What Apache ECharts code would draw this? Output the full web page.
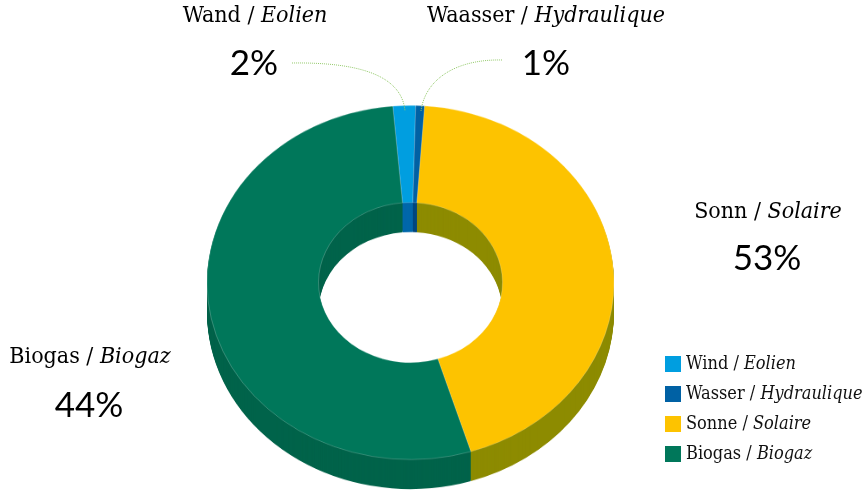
<!DOCTYPE html>
<html>
<head>
<meta charset="utf-8">
<script src="https://cdn.jsdelivr.net/npm/echarts@6/dist/echarts.min.js"></script>
<style>
html, body { margin: 0; padding: 0; background: #fff; }
#wrap { position: relative; width: 866px; height: 491px; overflow: hidden; }
#pie { position: absolute; left: 0; top: 0; width: 866px; height: 564px; transform: scaleY(0.87); transform-origin: 0 0; }
#main { position: absolute; left: 0; top: 0; width: 866px; height: 491px; }
</style>
</head>
<body>
<div id="wrap"><div id="pie"></div><div id="main"></div></div>
<script>
const legendNames = ["Wind / Eolien", "Wasser / Hydraulique", "Sonne / Solaire", "Biogas / Biogaz"];
const labelNames = ["Wand / Eolien", "Waasser / Hydraulique", "Sonn / Solaire", "Biogas / Biogaz"];
// slice sizes as drawn in the picture
const shares = [1.8, 0.7, 44.1, 53.4];
// percentages as printed on the picture
const pctLabels = ["2%", "1%", "53%", "44%"];
const topColors = ["#009ee0", "#0061a4", "#fdc300", "#00775a"];
const sideColors = ["#0067aa", "#00477f", "#8d8b00", "#00634a"];

const SCALE = 0.87;      // vertical squash of the pie layer
const DEPTH = 34;        // extrusion, in unscaled px
const CX = 410.5;
const CY = 282.5 / SCALE;
const serifFont = '"DejaVu Serif Condensed", "DejaVu Serif", serif';

// ---------- pie layer (squashed with css to look tilted) ----------
function pieLayer(colors, dy, isTop) {
  return {
    type: "pie",
    radius: [92, 203.5],
    center: [CX, CY + dy],
    startAngle: 95,
    clockwise: true,
    silent: true,
    animation: false,
    label: { show: false },
    labelLine: { show: false },
    itemStyle: isTop
      ? { borderColor: "rgba(255,255,255,0.35)", borderWidth: 0.6 }
      : { borderWidth: 0 },
    data: shares.map((v, i) => ({
      name: legendNames[i],
      value: v,
      itemStyle: { color: colors[i] }
    }))
  };
}

const pieSeries = [];
for (let k = DEPTH; k >= 1; k--) {
  pieSeries.push(pieLayer(sideColors, k, false));
}
pieSeries.push(pieLayer(topColors, 0, true));

const pieChart = echarts.init(document.getElementById("pie"));
pieChart.setOption({ animation: false, series: pieSeries });

// ---------- text layer ----------
function richName(s) {
  const p = s.split(" / ");
  return "{a|" + p[0] + " / }{b|" + p[1] + "}";
}

const nameRich = {
  a: { fontFamily: serifFont, fontSize: 23, color: "#111" },
  b: { fontFamily: serifFont, fontSize: 23, fontStyle: "italic", color: "#111" }
};

// label anchor points (name line, pct line)
const labelPos = [
  [255, 16, 254, 64],
  [546, 16, 546, 64],
  [768, 212, 767, 259],
  [90, 357, 89, 406]
];

const graphics = [];
labelPos.forEach((p, i) => {
  graphics.push({
    type: "text", x: p[0], y: p[1], silent: true,
    style: { text: richName(labelNames[i]), rich: nameRich, align: "center", verticalAlign: "middle" }
  });
  graphics.push({
    type: "text", x: p[2], y: p[3], silent: true,
    style: {
      text: pctLabels[i], fill: "#000",
      font: "400 35px Lato, sans-serif",
      align: "center", verticalAlign: "middle"
    }
  });
});

// leader lines for the two small slices
graphics.push({
  type: "bezierCurve", silent: true,
  shape: { x1: 292, y1: 63, cpx1: 365, cpy1: 62, cpx2: 402, cpy2: 78, x2: 405, y2: 111 },
  style: { stroke: "#93c96a", lineWidth: 1, lineDash: [1, 1], fill: null }
});
graphics.push({
  type: "bezierCurve", silent: true,
  shape: { x1: 502, y1: 60, cpx1: 455, cpy1: 59, cpx2: 425, cpy2: 80, x2: 421, y2: 111 },
  style: { stroke: "#93c96a", lineWidth: 1, lineDash: [1, 1], fill: null }
});

const chart = echarts.init(document.getElementById("main"));
chart.setOption({
  animation: false,
  legend: {
    orient: "vertical",
    left: 660,
    top: 350,
    itemWidth: 16,
    itemHeight: 16,
    itemGap: 12,
    selectedMode: false,
    icon: "rect",
    data: legendNames,
    formatter: function (name) { return richName(name); },
    textStyle: {
      lineHeight: 17,
      rich: {
        a: { fontFamily: serifFont, fontSize: 18, color: "#111" },
        b: { fontFamily: serifFont, fontSize: 18, fontStyle: "italic", color: "#111" }
      }
    }
  },
  // hidden series that only feeds the legend swatches
  series: [{
    type: "pie",
    radius: [0, 0],
    center: [-50, -50],
    silent: true,
    label: { show: false },
    labelLine: { show: false },
    data: shares.map((v, i) => ({ name: legendNames[i], value: v, itemStyle: { color: topColors[i] } }))
  }],
  graphic: graphics
});
</script>
</body>
</html>
